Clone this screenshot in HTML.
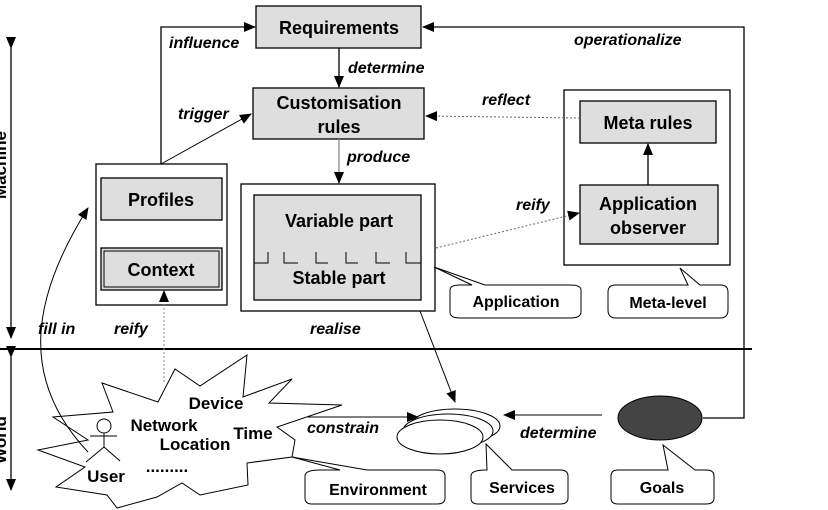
<!DOCTYPE html>
<html><head><meta charset="utf-8"><style>
html,body{margin:0;padding:0;background:#fff;}
svg{display:block;}
text{font-family:"Liberation Sans",Arial,sans-serif;font-weight:bold;fill:#000;}
.b{font-size:18px;text-anchor:middle;}
.i{font-size:16px;font-style:italic;}
.c{font-size:16px;text-anchor:middle;}
</style></head><body>
<svg width="828" height="510" viewBox="0 0 828 510" xmlns="http://www.w3.org/2000/svg">
<defs>
<marker id="a" markerWidth="12" markerHeight="10" refX="11" refY="5" orient="auto" markerUnits="userSpaceOnUse"><path d="M0,0 L12,5 L0,10 z" fill="#000"/></marker>
</defs>
<!-- boxes -->
<g stroke="#000" stroke-width="1.3">
<rect x="256" y="6" width="165" height="42" fill="#dedede"/>
<rect x="253" y="88" width="171" height="51" fill="#dedede"/>
<rect x="96" y="164" width="131" height="141" fill="#fff"/>
<rect x="101" y="178" width="121" height="42" fill="#dedede"/>
<rect x="101" y="248" width="121" height="42" fill="#dedede"/>
<rect x="104" y="251" width="115" height="36" fill="none" stroke-width="1"/>
<rect x="241" y="184" width="194" height="127" fill="#fff"/>
<rect x="254" y="195" width="167" height="105" fill="#dedede"/>
<rect x="564" y="90" width="166" height="175" fill="#fff"/>
<rect x="580" y="101" width="136" height="42" fill="#dedede"/>
<rect x="580" y="185" width="138" height="59" fill="#dedede"/>
</g>
<path d="M254,263 H268 V252 M284,252 V263 H298 M316,252 V263 H328 M346,252 V263 H358 M376,252 V263 H390 M406,252 V263 H421" stroke="#000" fill="none" stroke-width="1"/>
<!-- cloud -->
<path d="M247,355 L243,397 L292,379 L269,403 L342,405 L277,427 L295,440 L292,457 L247,463 L248,485 L200,495 L182,483 L157,497 L117,508 L107,495 L56,487 L85,467 L38,450 L88,440 L53,417 L113,412 L102,383 L158,402 L175,369 L200,386 Z" fill="#fff" stroke="#000" stroke-width="1"/>
<!-- user stick -->
<g stroke="#000" fill="none" stroke-width="1">
<circle cx="104" cy="426" r="7"/>
<line x1="104" y1="433" x2="104" y2="447"/>
<line x1="90" y1="436" x2="117" y2="436"/>
<line x1="104" y1="447" x2="86" y2="462"/>
<line x1="104" y1="447" x2="120" y2="461"/>
</g>
<!-- services -->
<g stroke="#000" fill="#fff" stroke-width="1">
<ellipse cx="455" cy="426" rx="45" ry="17"/>
<ellipse cx="448" cy="431" rx="45" ry="17"/>
<ellipse cx="440" cy="437" rx="43" ry="17"/>
</g>
<ellipse cx="660" cy="418" rx="42" ry="22" fill="#444" stroke="#000"/>
<!-- callouts -->
<g stroke="#000" fill="#fff" stroke-width="1">
<path d="M434,267 L485,285 L570,285 Q581,285 581,290 V312 Q581,318 570,318 H460 Q450,318 450,312 V290 Q450,285 460,285 L472,285 Z"/>
<path d="M680,268 L700,285 L720,285 Q728,285 728,292 V310 Q728,318 720,318 H616 Q608,318 608,310 V292 Q608,285 616,285 L688,285 Z"/>
<path d="M292,457 L367,470 L437,470 Q445,470 445,476 V498 Q445,504 437,504 H312 Q305,504 305,498 V476 Q305,470 320,470 L340,470 Z"/>
<path d="M486,444 L512,470 L560,470 Q568,470 568,476 V498 Q568,504 560,504 H478 Q471,504 471,498 V476 Q471,470 486,470 L487,470 L486,444 Z"/>
<path d="M663,445 L695,470 L706,470 Q714,470 714,476 V498 Q714,504 706,504 H618 Q611,504 611,498 V476 Q611,470 618,470 L668,470 Z"/>
</g>
<!-- connectors -->
<g stroke="#000" fill="none" stroke-width="1.3">
<line x1="11" y1="48" x2="11" y2="338" marker-start="url(#a)" marker-end="url(#a)"/>
<line x1="11" y1="357" x2="11" y2="490" marker-start="url(#a)" marker-end="url(#a)"/>
<line x1="0" y1="349" x2="752" y2="349" stroke-width="2"/>
<polyline points="703,418 744,418 744,27 423,27" marker-end="url(#a)"/>
<polyline points="161,164 161,27 255,27" marker-end="url(#a)"/>
<line x1="161" y1="164" x2="251" y2="114" stroke-width="1" marker-end="url(#a)"/>
<line x1="339" y1="48" x2="339" y2="87" marker-end="url(#a)"/>
<line x1="339" y1="139" x2="339" y2="183" stroke="#888" marker-end="url(#a)"/>
<line x1="580" y1="118" x2="426" y2="116" stroke-dasharray="2,2" stroke-width="1" stroke="#666" marker-end="url(#a)"/>
<line x1="648" y1="185" x2="648" y2="144" marker-end="url(#a)"/>
<line x1="436" y1="248" x2="579" y2="213" stroke-dasharray="2,2" stroke-width="1" stroke="#666" marker-end="url(#a)"/>
<line x1="164" y1="382" x2="164" y2="291" stroke-dasharray="2,2" stroke-width="1" stroke="#888" marker-end="url(#a)"/>
<path d="M88,452 C20,380 30,300 88,208" stroke-width="1" marker-end="url(#a)"/>
<line x1="420" y1="311" x2="455" y2="402" stroke-width="1" marker-end="url(#a)"/>
<line x1="308" y1="417" x2="418" y2="417" stroke-width="1" marker-end="url(#a)"/>
<line x1="602" y1="415" x2="504" y2="415" stroke-width="1" marker-end="url(#a)"/>
</g>
<!-- text -->
<text class="b" x="339" y="34">Requirements</text>
<text class="b" x="339" y="109">Customisation</text>
<text class="b" x="339" y="133">rules</text>
<text class="b" x="161" y="206">Profiles</text>
<text class="b" x="161" y="276">Context</text>
<text class="b" x="339" y="227">Variable part</text>
<text class="b" x="339" y="284">Stable part</text>
<text class="b" x="648" y="129">Meta rules</text>
<text class="b" x="648" y="210">Application</text>
<text class="b" x="648" y="234">observer</text>
<text class="c" x="516" y="307">Application</text>
<text class="c" x="668" y="308">Meta-level</text>
<text class="c" x="378" y="495">Environment</text>
<text class="c" x="522" y="493">Services</text>
<text class="c" x="662" y="493">Goals</text>
<text class="i" x="169" y="48">influence</text>
<text class="i" x="348" y="73">determine</text>
<text class="i" x="178" y="119">trigger</text>
<text class="i" x="347" y="162">produce</text>
<text class="i" x="482" y="105">reflect</text>
<text class="i" x="574" y="45">operationalize</text>
<text class="i" x="516" y="210">reify</text>
<text class="i" x="310" y="334">realise</text>
<text class="i" x="38" y="334">fill in</text>
<text class="i" x="114" y="334">reify</text>
<text class="i" x="307" y="433">constrain</text>
<text class="i" x="520" y="438">determine</text>
<text class="c" x="216" y="409" style="font-size:17px">Device</text>
<text class="c" x="164" y="431" style="font-size:17px">Network</text>
<text class="c" x="195" y="450" style="font-size:17px">Location</text>
<text class="c" x="253" y="439" style="font-size:17px">Time</text>
<text class="c" x="167" y="472" style="font-size:17px">.........</text>
<text class="c" x="106" y="482" style="font-size:17px">User</text>
<text x="6" y="165" transform="rotate(-90 6 165)" style="font-size:17px;text-anchor:middle">Machine</text>
<text x="6" y="440" transform="rotate(-90 6 440)" style="font-size:17px;text-anchor:middle">World</text>
</svg>
</body></html>
